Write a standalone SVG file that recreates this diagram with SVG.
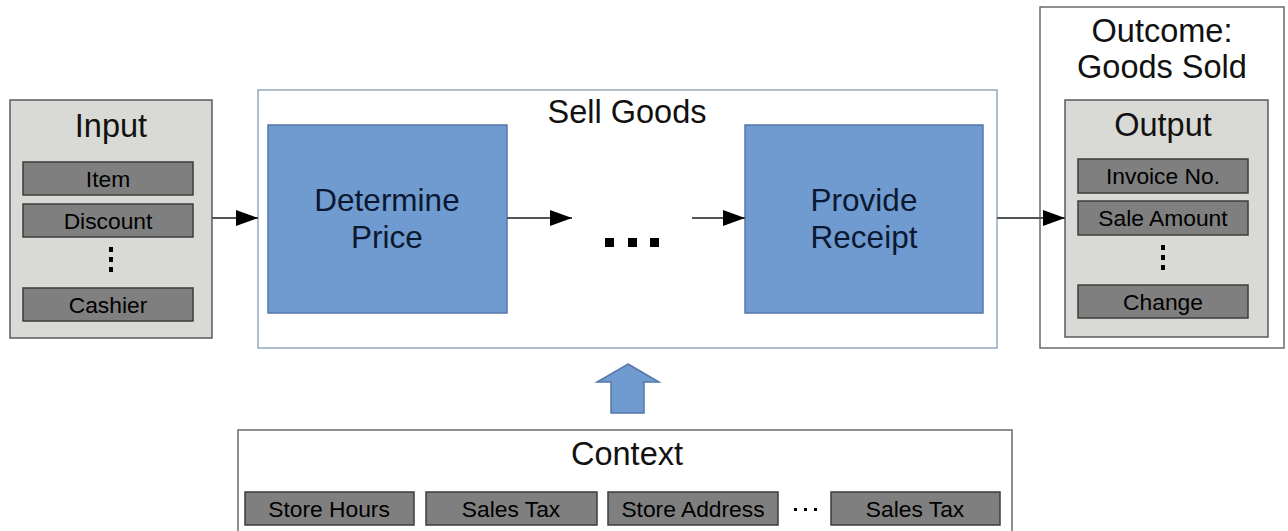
<svg xmlns="http://www.w3.org/2000/svg" width="1288" height="531" viewBox="0 0 1288 531">
<defs>
<marker id="ah" markerWidth="22" markerHeight="16" refX="22" refY="8" orient="auto" markerUnits="userSpaceOnUse">
<path d="M0,0 L22,8 L0,16 Z" fill="#000"/>
</marker>
<style>
text{font-family:"Liberation Sans",Arial,sans-serif;fill:#111;text-anchor:middle}
.h{font-size:32.5px}
.it{font-size:22.8px;fill:#000}
.grey{fill:#d9dad5;stroke:#5a5a5a;stroke-width:1.5}
.white{fill:#fff;stroke:#6a6a6a;stroke-width:1.5}
.item{fill:#7f7f7f;stroke:#3c3c3c;stroke-width:1.5}
.proc{fill:#6f9bd0;stroke:#5577a8;stroke-width:1.5}
.step{font-size:31.5px;fill:#0c1830}
.conn{stroke:#555;stroke-width:1.8;fill:none}
.dot{fill:#000}
</style>
</defs>
<rect width="1288" height="531" fill="#fff"/>

<g id="input">
<rect class="grey" x="10" y="100" width="202" height="238"/>
<text class="h" x="111" y="137">Input</text>
<rect class="item" x="23" y="162" width="170" height="33"/>
<text class="it" x="108" y="187">Item</text>
<rect class="item" x="23" y="204" width="170" height="33"/>
<text class="it" x="108" y="229">Discount</text>
<rect class="dot" x="109" y="247" width="4" height="5"/>
<rect class="dot" x="109" y="257" width="4" height="5"/>
<rect class="dot" x="109" y="267" width="4" height="5"/>
<rect class="item" x="23" y="288" width="170" height="33"/>
<text class="it" x="108" y="313">Cashier</text>
</g>

<g id="sell-goods">
<rect x="258" y="90" width="739" height="258" fill="#fff" stroke="#92a9c0" stroke-width="1.5"/>
<text class="h" x="627" y="123">Sell Goods</text>
</g>

<g id="determine-price">
<rect class="proc" x="268" y="125" width="239" height="188"/>
<text class="step" x="387" y="211">Determine</text>
<text class="step" x="387" y="248">Price</text>
</g>

<g id="ellipsis">
<rect class="dot" x="605" y="238" width="9" height="9"/>
<rect class="dot" x="628" y="238" width="9" height="9"/>
<rect class="dot" x="650" y="238" width="9" height="9"/>
</g>

<g id="provide-receipt">
<rect class="proc" x="745" y="125" width="238" height="188"/>
<text class="step" x="864" y="211">Provide</text>
<text class="step" x="864" y="248">Receipt</text>
</g>

<g id="outcome">
<rect class="white" x="1040" y="7" width="244" height="341"/>
<text class="h" x="1162" y="42">Outcome:</text>
<text class="h" x="1162" y="78">Goods Sold</text>
</g>

<g id="output">
<rect class="grey" x="1065" y="100" width="203" height="237"/>
<text class="h" x="1163" y="136">Output</text>
<rect class="item" x="1078" y="159" width="170" height="34"/>
<text class="it" x="1163" y="184">Invoice No.</text>
<rect class="item" x="1078" y="201" width="170" height="34"/>
<text class="it" x="1163" y="226">Sale Amount</text>
<rect class="dot" x="1161" y="245" width="4" height="5"/>
<rect class="dot" x="1161" y="255" width="4" height="5"/>
<rect class="dot" x="1161" y="265" width="4" height="5"/>
<rect class="item" x="1078" y="285" width="170" height="33"/>
<text class="it" x="1163" y="310">Change</text>
</g>

<g id="context">
<rect class="white" x="238" y="430" width="774" height="110"/>
<text class="h" x="627" y="465">Context</text>
<rect class="item" x="245" y="492" width="169" height="33"/>
<text class="it" x="329" y="517">Store Hours</text>
<rect class="item" x="426" y="492" width="171" height="33"/>
<text class="it" x="511" y="517">Sales Tax</text>
<rect class="item" x="608" y="492" width="170" height="33"/>
<text class="it" x="693" y="517">Store Address</text>
<rect class="dot" x="794" y="508" width="3" height="3"/>
<rect class="dot" x="804" y="508" width="3" height="3"/>
<rect class="dot" x="814" y="508" width="3" height="3"/>
<rect class="item" x="831" y="492" width="169" height="33"/>
<text class="it" x="915" y="517">Sales Tax</text>
</g>

<g id="connectors">
<line class="conn" x1="212" y1="218" x2="258" y2="218" marker-end="url(#ah)"/>
<line class="conn" x1="507" y1="218" x2="572" y2="218" marker-end="url(#ah)"/>
<line class="conn" x1="692" y1="218" x2="745" y2="218" marker-end="url(#ah)"/>
<line class="conn" x1="997" y1="218" x2="1065" y2="218" marker-end="url(#ah)"/>
<path d="M628,364 L659,382 L644,382 L644,413 L611,413 L611,382 L597,382 Z" fill="#6f9bd0" stroke="#5577a8" stroke-width="1.5"/>
</g>
</svg>
